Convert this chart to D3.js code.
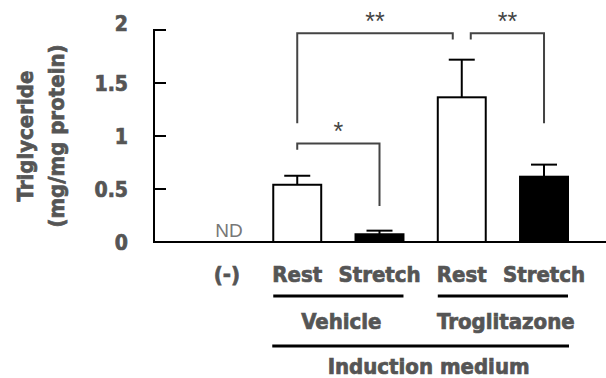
<!DOCTYPE html>
<html><head><meta charset="utf-8">
<script src="https://cdn.jsdelivr.net/npm/d3@7"></script>
<style>
body{margin:0;background:#fff;}
svg{display:block;}
.lbl{font-family:"Liberation Sans Narrow","DejaVu Sans Condensed","Arial Narrow",sans-serif;font-weight:bold;fill:#555;stroke:#555;stroke-width:0.7px;}
</style></head>
<body>
<svg id="c" width="606" height="378"></svg>
<script>
const categories = ["(-)", "Rest", "Stretch", "Rest ", "Stretch "];
const groupLabels = ["Vehicle", "Troglitazone"];
const outerLabel = "Induction medium";
const means = [0, 0.54, 0.073, 1.365, 0.616];
const sems  = [0, 0.085, 0.034, 0.355, 0.114];
const fills = ["none", "#fff", "#000", "#fff", "#000"];
const yTicks = [0, 0.5, 1, 1.5, 2];
const yTickLabels = ["0", "0.5", "1", "1.5", "2"];
// significance comparisons
const sigs = [
  {a:1, b:3, label:"**", y:1.97, dropA:1.12, dropB:1.91},
  {a:3, b:4, label:"**", y:1.97, dropA:1.91, dropB:1.12},
  {a:1, b:2, label:"*",  y:0.93, dropA:0.87, dropB:0.34}
];

const svg = d3.select("#c");
const y = d3.scaleLinear().domain([0, 2]).range([242, 30]);
const x = d3.scaleBand().domain(categories).range([191, 568]).paddingInner(0.417).paddingOuter(0);
const bw = x.bandwidth();
const cx = c => x(c) + bw / 2;

// y axis
const yAxis = d3.axisLeft(y).tickValues(yTicks).tickSize(0).tickPadding(26)
  .tickFormat((d, i) => yTickLabels[i]);
const gy = svg.append("g").attr("transform", "translate(154,0)").call(yAxis);
gy.select(".domain").remove();
gy.append("line").attr("x1", 0).attr("x2", 0).attr("y1", y(2) - 1).attr("y2", y(0))
  .attr("stroke", "#000").attr("stroke-width", 2);
gy.selectAll("line.tk").data(yTicks).join("line").attr("class", "tk")
  .attr("x1", 0).attr("x2", 12).attr("y1", d => y(d)).attr("y2", d => y(d))
  .attr("stroke", "#000").attr("stroke-width", 2);
gy.selectAll(".tick text").attr("class", "lbl").style("font-size", "21px").attr("dy", (d) => d === 2 ? "0.0em" : "0.36em");

// y title
const yt = svg.append("g").attr("transform", "translate(0,136) rotate(-90)");
yt.append("text").attr("class", "lbl").attr("x", 0).attr("y", 33).attr("text-anchor", "middle").style("font-size", "22px").text("Triglyceride");
yt.append("text").attr("class", "lbl").attr("x", 0).attr("y", 64).attr("text-anchor", "middle").style("font-size", "22px").text("(mg/mg protein)");

// bars
const data = categories.map((c, i) => ({c, m: means[i], s: sems[i], f: fills[i]}));
const bars = data.filter(d => d.f !== "none");
svg.append("g").selectAll("rect").data(bars).join("rect")
  .attr("x", d => x(d.c)).attr("y", d => y(d.m)).attr("width", bw).attr("height", d => y(0) - y(d.m))
  .attr("fill", d => d.f).attr("stroke", "#000").attr("stroke-width", 2);
// error bars
const eb = svg.append("g").attr("stroke", "#000").attr("stroke-width", 2);
eb.selectAll("line.v").data(bars).join("line").attr("class", "v")
  .attr("x1", d => cx(d.c)).attr("x2", d => cx(d.c)).attr("y1", d => y(d.m)).attr("y2", d => y(d.m + d.s));
eb.selectAll("line.h").data(bars).join("line").attr("class", "h")
  .attr("x1", d => cx(d.c) - 13).attr("x2", d => cx(d.c) + 13).attr("y1", d => y(d.m + d.s)).attr("y2", d => y(d.m + d.s));

// baseline
svg.append("line").attr("x1", 153).attr("x2", 606).attr("y1", y(0)).attr("y2", y(0)).attr("stroke", "#000").attr("stroke-width", 2);

// ND
svg.append("text").attr("x", cx(categories[0]) + 14).attr("y", y(0) - 5).attr("text-anchor", "middle")
  .style("font-family", "'Liberation Sans',Arial,sans-serif").style("font-size", "19px").attr("fill", "#777").text("ND");

// significance brackets
const sg = svg.append("g");
sigs.forEach((s, k) => {
  let xa = cx(categories[s.a]), xb = cx(categories[s.b]);
  if (k === 0) xb -= 9;
  if (k === 1) xa += 9;
  sg.append("path").attr("fill", "none").attr("stroke", "#444").attr("stroke-width", 2)
    .attr("d", `M${xa},${y(s.dropA)}V${y(s.y)}H${xb}V${y(s.dropB)}`);
  sg.append("text").attr("x", (xa + xb) / 2).attr("y", y(s.y) - 3).attr("text-anchor", "middle")
    .style("font-family", "'Liberation Sans',Arial,sans-serif").style("font-size", "25px").attr("fill", "#444").text(s.label);
});

// x category labels
const xAxis = d3.axisBottom(x).tickSize(0).tickPadding(0).tickFormat(d => d.trim());
const gx = svg.append("g").attr("transform", `translate(0,${y(0)})`).call(xAxis);
gx.select(".domain").remove();
gx.selectAll(".tick text").attr("class", "lbl").style("font-size", "22px").attr("y", 40).attr("dy", 0)
  .attr("dx", (d, i) => i === 0 ? 12 : 0);

// group lines and labels
const groups = [[1, 2], [3, 4]];
groups.forEach((g, i) => {
  const x0 = x(categories[g[0]]), x1 = x(categories[g[1]]) + bw;
  svg.append("line").attr("x1", x0).attr("x2", x1).attr("y1", 296).attr("y2", 296).attr("stroke", "#000").attr("stroke-width", 3);
  svg.append("text").attr("class", "lbl").attr("x", (x0 + x1) / 2 + 3).attr("y", 329).attr("text-anchor", "middle").style("font-size", "22px").text(groupLabels[i]);
});
const ox0 = x(categories[1]) - 1, ox1 = x(categories[4]) + bw + 1;
svg.append("line").attr("x1", ox0).attr("x2", ox1).attr("y1", 346).attr("y2", 346).attr("stroke", "#000").attr("stroke-width", 3);
svg.append("text").attr("class", "lbl").attr("x", (ox0 + ox1) / 2 + 8).attr("y", 374).attr("text-anchor", "middle").style("font-size", "22px").text(outerLabel);
</script>
</body></html>
